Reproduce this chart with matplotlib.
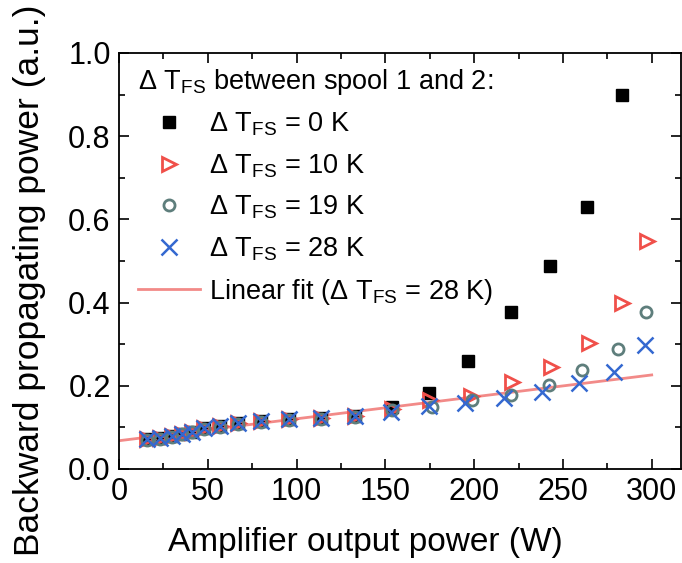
import matplotlib
matplotlib.use("Agg")
import matplotlib.pyplot as plt
from matplotlib.ticker import MultipleLocator, FormatStrFormatter

plt.rcParams['font.family'] = ['Liberation Sans', 'DejaVu Sans']
plt.rcParams['mathtext.fontset'] = 'custom'
plt.rcParams['mathtext.rm'] = 'Liberation Sans'
plt.rcParams['mathtext.it'] = 'Liberation Sans:italic'
plt.rcParams['mathtext.bf'] = 'Liberation Sans:bold'

# amplifier output power (W) for the low-power points shared by all series
p_low = [16, 23, 30, 35.5, 41, 48, 57, 67, 80, 96, 114, 133]
b_low = [0.071, 0.075, 0.080, 0.085, 0.090, 0.098, 0.104, 0.110, 0.115, 0.119, 0.123, 0.128]

# dT_FS = 0 K
p_0K = p_low + [154, 174.5, 196.5, 221, 242.5, 263.5, 283]
b_0K = b_low + [0.149, 0.182, 0.26, 0.378, 0.488, 0.63, 0.899]

# dT_FS = 10 K
p_10K = p_low + [154, 175, 198.5, 221.5, 243.5, 264.5, 283.5, 297.5]
b_10K = b_low + [0.145, 0.166, 0.175, 0.209, 0.245, 0.303, 0.399, 0.548]

# dT_FS = 19 K
p_19K = p_low + [154, 176, 199, 220.5, 242, 261, 281, 297]
b_19K = [v - 0.002 for v in b_low] + [0.142, 0.150, 0.166, 0.178, 0.202, 0.238, 0.288, 0.378]

# dT_FS = 28 K
p_28K = p_low + [153, 174.5, 195, 217, 238, 259, 279, 296]
b_28K = b_low + [0.138, 0.152, 0.158, 0.170, 0.186, 0.206, 0.234, 0.298]

# linear fit of the 28 K series
fit_range = [0, 300]
fit_intercept = 0.068
fit_slope = 0.000527

W, H = 682, 563
fig = plt.figure(figsize=(W / 100, H / 100), dpi=100)
ax = fig.add_axes([119 / W, 94 / H, 562 / W, 416 / H])

dT = r'$\Delta$ T$_{\mathrm{FS}}$'
ax.plot(p_0K, b_0K, 's', color='black', markersize=9, label=dT + ' = 0 K', zorder=3)
ax.plot(p_10K, b_10K, '>', color='#f0504a', markerfacecolor='none', markeredgewidth=2,
        markersize=10, label=dT + ' = 10 K', zorder=3)
ax.plot(p_19K, b_19K, 'o', color='#5e7e7c', markerfacecolor='none', markeredgewidth=2,
        markersize=8, label=dT + ' = 19 K', zorder=3)
ax.plot(p_28K, b_28K, 'x', color='#3468d0', markeredgewidth=1.8,
        markersize=11, label=dT + ' = 28 K', zorder=4)
fit_y = [fit_intercept + fit_slope * p for p in fit_range]
ax.plot(fit_range, fit_y, '-', color='#f28a88', linewidth=2,
        label='Linear fit (' + dT + ' = 28 K)', zorder=2)

ax.set_xlim(0, 316.5)
ax.set_ylim(0, 1.0)
ax.xaxis.set_major_locator(MultipleLocator(50))
ax.xaxis.set_minor_locator(MultipleLocator(25))
ax.yaxis.set_major_locator(MultipleLocator(0.2))
ax.yaxis.set_minor_locator(MultipleLocator(0.1))
ax.yaxis.set_major_formatter(FormatStrFormatter('%.1f'))
ax.tick_params(which='both', direction='in', top=True, right=True, labelsize=22, pad=6)
ax.tick_params(which='major', length=7, width=1.2)
ax.tick_params(which='minor', length=4, width=1.2)
for s in ax.spines.values():
    s.set_linewidth(1.3)

ax.set_xlabel('Amplifier output power (W)', fontsize=24)
ax.set_ylabel('Backward propagating power (a.u.)', fontsize=25.5)
# label centres in pixel terms, converted to axes coordinates
ax.xaxis.set_label_coords((365 - 119) / 562, -(542 - 469) / 416)
ax.yaxis.set_label_coords(-(119 - 30) / 562, (469 - 280) / 416)
ax.xaxis.label.set_va('center')
ax.yaxis.label.set_va('center')

leg = ax.legend(loc='upper left', frameon=False, fontsize=19.5,
                title=dT + ' between spool 1 and 2:',
                title_fontsize=19.5, handlelength=2.3, handletextpad=0.3,
                labelspacing=0.52, borderaxespad=0.2, borderpad=0.3,
                bbox_to_anchor=(0.01, 1.0))
leg._legend_box.align = 'left'

fig.savefig('out.png', dpi=100)
